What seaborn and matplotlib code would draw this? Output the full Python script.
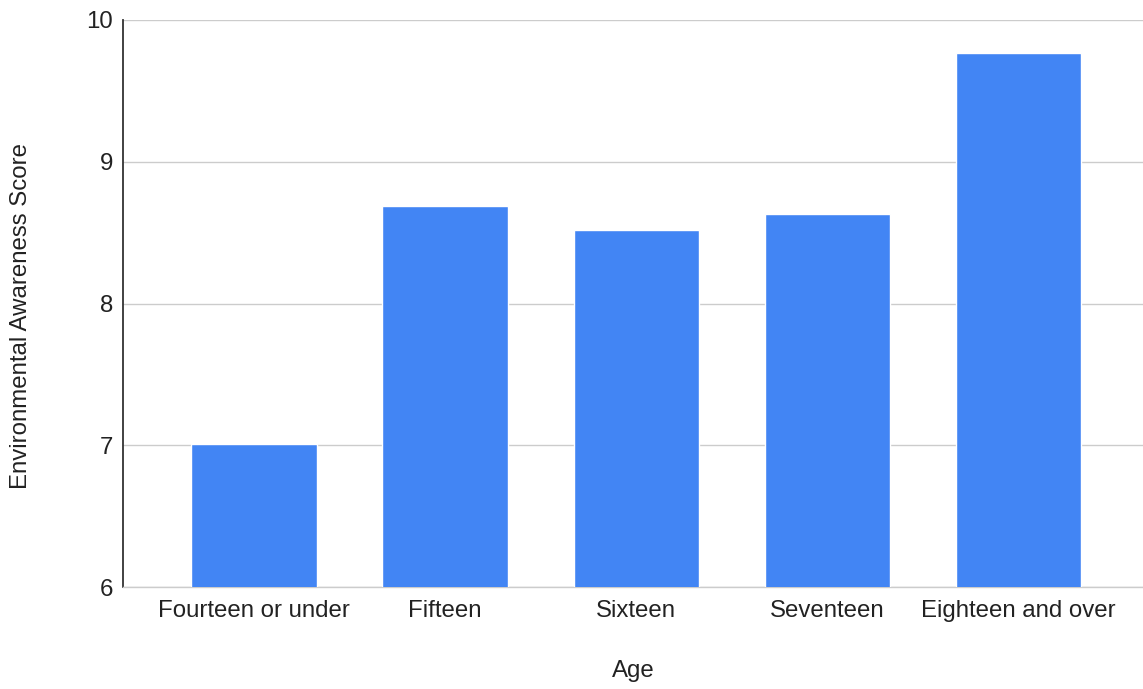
import matplotlib
matplotlib.use("Agg")
import matplotlib.pyplot as plt
import seaborn as sns
import pandas as pd

ages = ["Fourteen or under", "Fifteen", "Sixteen", "Seventeen", "Eighteen and over"]
scores = [7.01, 8.69, 8.52, 8.63, 9.77]
y_ticks = [6, 7, 8, 9, 10]

df = pd.DataFrame({"Age": ages, "Score": scores})

sns.set_theme(style="white")
plt.rcParams["font.family"] = ["Liberation Sans", "DejaVu Sans"]

FS = 17.3
TXT = "#222222"

fig = plt.figure(figsize=(11.43, 6.89), dpi=100)
ax = fig.add_axes([123 / 1143, 1 - 587 / 689, (1143 - 123) / 1143, (587 - 20) / 689])

sns.barplot(data=df, x="Age", y="Score", color="#4285F4", saturation=1,
            width=0.655, ax=ax, zorder=3)

ax.set_ylim(6, 10)
ax.set_xlim(-0.685, 4.651)
ax.set_yticks(y_ticks)
ax.set_yticklabels([str(t) for t in y_ticks], fontsize=FS, color=TXT)
ax.tick_params(axis="x", labelsize=FS, colors=TXT, length=0, pad=9.5)
ax.tick_params(axis="y", length=0, pad=7)

ax.grid(axis="y", color="#cccccc", linewidth=1, zorder=0)
for side in ["top", "right"]:
    ax.spines[side].set_visible(False)
ax.spines["left"].set_color("#333333")
ax.spines["left"].set_linewidth(1.3)
ax.spines["bottom"].set_color("#cccccc")
ax.spines["bottom"].set_linewidth(1)

ax.set_xlabel("Age", fontsize=FS, color=TXT, labelpad=27)
ax.set_ylabel("Environmental Awareness Score", fontsize=FS, color=TXT)
ax.yaxis.set_label_coords(-0.089, 0.478)

fig.savefig("out.png", dpi=100)
